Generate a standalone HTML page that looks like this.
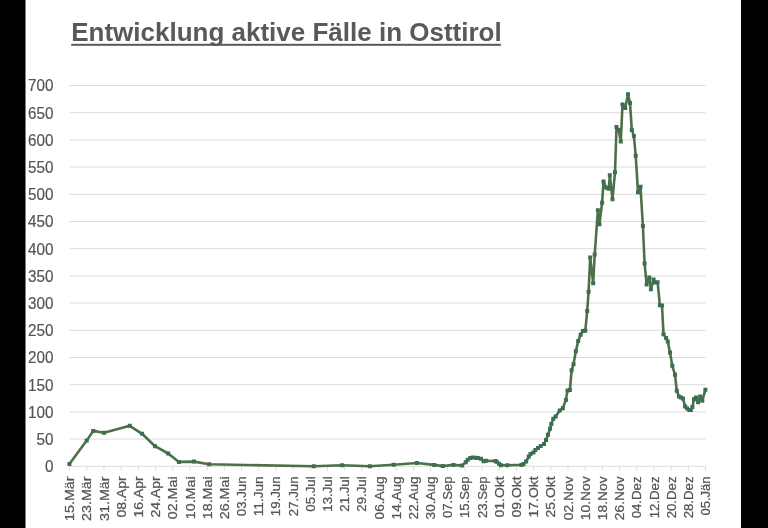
<!DOCTYPE html>
<html><head><meta charset="utf-8"><title>Entwicklung aktive Fälle in Osttirol</title>
<style>
html,body{margin:0;padding:0;background:#000;}
body{width:768px;height:528px;overflow:hidden;}
svg{display:block;filter:blur(0.35px);}
.t{font-family:"Liberation Sans",Arial,sans-serif;font-weight:bold;font-size:26px;fill:#595959;}
.y{font-family:"Liberation Sans",Arial,sans-serif;font-size:16.4px;fill:#555;stroke:#555;stroke-width:0.2px;}
.x{font-family:"Liberation Sans",Arial,sans-serif;font-size:13px;fill:#555;stroke:#555;stroke-width:0.25px;}
</style></head><body>
<svg width="768" height="528" viewBox="0 0 768 528">
<rect x="0" y="0" width="768" height="528" fill="#000"/>
<rect x="25.5" y="0" width="715.5" height="528" fill="#fff"/>
<text class="t" x="71.2" y="41">Entwicklung aktive Fälle in Osttirol</text>
<rect x="71.2" y="43.8" width="429.7" height="2" fill="#595959"/>
<path d="M69.5 466.30H705.5M69.5 439.10H705.5M69.5 411.90H705.5M69.5 384.70H705.5M69.5 357.50H705.5M69.5 330.30H705.5M69.5 303.10H705.5M69.5 275.90H705.5M69.5 248.70H705.5M69.5 221.50H705.5M69.5 194.30H705.5M69.5 167.10H705.5M69.5 139.90H705.5M69.5 112.70H705.5M69.5 85.50H705.5" stroke="#dcdcdc" stroke-width="1" fill="none"/>
<path d="M69.60 466.3V470.8M86.79 466.3V470.8M103.97 466.3V470.8M121.16 466.3V470.8M138.34 466.3V470.8M155.53 466.3V470.8M172.72 466.3V470.8M189.90 466.3V470.8M207.09 466.3V470.8M224.27 466.3V470.8M241.46 466.3V470.8M258.65 466.3V470.8M275.83 466.3V470.8M293.02 466.3V470.8M310.20 466.3V470.8M327.39 466.3V470.8M344.58 466.3V470.8M361.76 466.3V470.8M378.95 466.3V470.8M396.13 466.3V470.8M413.32 466.3V470.8M430.51 466.3V470.8M447.69 466.3V470.8M464.88 466.3V470.8M482.06 466.3V470.8M499.25 466.3V470.8M516.44 466.3V470.8M533.62 466.3V470.8M550.81 466.3V470.8M567.99 466.3V470.8M585.18 466.3V470.8M602.37 466.3V470.8M619.55 466.3V470.8M636.74 466.3V470.8M653.92 466.3V470.8M671.11 466.3V470.8M688.30 466.3V470.8M705.48 466.3V470.8" stroke="#dcdcdc" stroke-width="1" fill="none"/>
<text class="y" transform="translate(53.4,472.10) scale(0.93,1)" text-anchor="end">0</text>
<text class="y" transform="translate(53.4,444.90) scale(0.93,1)" text-anchor="end">50</text>
<text class="y" transform="translate(53.4,417.70) scale(0.93,1)" text-anchor="end">100</text>
<text class="y" transform="translate(53.4,390.50) scale(0.93,1)" text-anchor="end">150</text>
<text class="y" transform="translate(53.4,363.30) scale(0.93,1)" text-anchor="end">200</text>
<text class="y" transform="translate(53.4,336.10) scale(0.93,1)" text-anchor="end">250</text>
<text class="y" transform="translate(53.4,308.90) scale(0.93,1)" text-anchor="end">300</text>
<text class="y" transform="translate(53.4,281.70) scale(0.93,1)" text-anchor="end">350</text>
<text class="y" transform="translate(53.4,254.50) scale(0.93,1)" text-anchor="end">400</text>
<text class="y" transform="translate(53.4,227.30) scale(0.93,1)" text-anchor="end">450</text>
<text class="y" transform="translate(53.4,200.10) scale(0.93,1)" text-anchor="end">500</text>
<text class="y" transform="translate(53.4,172.90) scale(0.93,1)" text-anchor="end">550</text>
<text class="y" transform="translate(53.4,145.70) scale(0.93,1)" text-anchor="end">600</text>
<text class="y" transform="translate(53.4,118.50) scale(0.93,1)" text-anchor="end">650</text>
<text class="y" transform="translate(53.4,91.30) scale(0.93,1)" text-anchor="end">700</text>
<text class="x" transform="translate(74.20,476.4) rotate(-90)" text-anchor="end" textLength="44.67" lengthAdjust="spacingAndGlyphs">15.Mär</text>
<text class="x" transform="translate(91.39,476.4) rotate(-90)" text-anchor="end" textLength="44.67" lengthAdjust="spacingAndGlyphs">23.Mär</text>
<text class="x" transform="translate(108.57,476.4) rotate(-90)" text-anchor="end" textLength="44.67" lengthAdjust="spacingAndGlyphs">31.Mär</text>
<text class="x" transform="translate(125.76,476.4) rotate(-90)" text-anchor="end" textLength="41.14" lengthAdjust="spacingAndGlyphs">08.Apr</text>
<text class="x" transform="translate(142.94,476.4) rotate(-90)" text-anchor="end" textLength="41.14" lengthAdjust="spacingAndGlyphs">16.Apr</text>
<text class="x" transform="translate(160.13,476.4) rotate(-90)" text-anchor="end" textLength="41.14" lengthAdjust="spacingAndGlyphs">24.Apr</text>
<text class="x" transform="translate(177.32,476.4) rotate(-90)" text-anchor="end" textLength="42.83" lengthAdjust="spacingAndGlyphs">02.Mai</text>
<text class="x" transform="translate(194.50,476.4) rotate(-90)" text-anchor="end" textLength="42.83" lengthAdjust="spacingAndGlyphs">10.Mai</text>
<text class="x" transform="translate(211.69,476.4) rotate(-90)" text-anchor="end" textLength="42.83" lengthAdjust="spacingAndGlyphs">18.Mai</text>
<text class="x" transform="translate(228.87,476.4) rotate(-90)" text-anchor="end" textLength="42.83" lengthAdjust="spacingAndGlyphs">26.Mai</text>
<text class="x" transform="translate(246.06,476.4) rotate(-90)" text-anchor="end" textLength="39.85" lengthAdjust="spacingAndGlyphs">03.Jun</text>
<text class="x" transform="translate(263.25,476.4) rotate(-90)" text-anchor="end" textLength="39.85" lengthAdjust="spacingAndGlyphs">11.Jun</text>
<text class="x" transform="translate(280.43,476.4) rotate(-90)" text-anchor="end" textLength="39.85" lengthAdjust="spacingAndGlyphs">19.Jun</text>
<text class="x" transform="translate(297.62,476.4) rotate(-90)" text-anchor="end" textLength="39.85" lengthAdjust="spacingAndGlyphs">27.Jun</text>
<text class="x" transform="translate(314.80,476.4) rotate(-90)" text-anchor="end" textLength="35.30" lengthAdjust="spacingAndGlyphs">05.Jul</text>
<text class="x" transform="translate(331.99,476.4) rotate(-90)" text-anchor="end" textLength="35.30" lengthAdjust="spacingAndGlyphs">13.Jul</text>
<text class="x" transform="translate(349.18,476.4) rotate(-90)" text-anchor="end" textLength="35.30" lengthAdjust="spacingAndGlyphs">21.Jul</text>
<text class="x" transform="translate(366.36,476.4) rotate(-90)" text-anchor="end" textLength="35.30" lengthAdjust="spacingAndGlyphs">29.Jul</text>
<text class="x" transform="translate(383.55,476.4) rotate(-90)" text-anchor="end" textLength="43.01" lengthAdjust="spacingAndGlyphs">06.Aug</text>
<text class="x" transform="translate(400.73,476.4) rotate(-90)" text-anchor="end" textLength="43.01" lengthAdjust="spacingAndGlyphs">14.Aug</text>
<text class="x" transform="translate(417.92,476.4) rotate(-90)" text-anchor="end" textLength="43.01" lengthAdjust="spacingAndGlyphs">22.Aug</text>
<text class="x" transform="translate(435.11,476.4) rotate(-90)" text-anchor="end" textLength="43.01" lengthAdjust="spacingAndGlyphs">30.Aug</text>
<text class="x" transform="translate(452.29,476.4) rotate(-90)" text-anchor="end" textLength="41.58" lengthAdjust="spacingAndGlyphs">07.Sep</text>
<text class="x" transform="translate(469.48,476.4) rotate(-90)" text-anchor="end" textLength="41.58" lengthAdjust="spacingAndGlyphs">15.Sep</text>
<text class="x" transform="translate(486.66,476.4) rotate(-90)" text-anchor="end" textLength="41.58" lengthAdjust="spacingAndGlyphs">23.Sep</text>
<text class="x" transform="translate(503.85,476.4) rotate(-90)" text-anchor="end" textLength="41.12" lengthAdjust="spacingAndGlyphs">01.Okt</text>
<text class="x" transform="translate(521.04,476.4) rotate(-90)" text-anchor="end" textLength="41.12" lengthAdjust="spacingAndGlyphs">09.Okt</text>
<text class="x" transform="translate(538.22,476.4) rotate(-90)" text-anchor="end" textLength="41.12" lengthAdjust="spacingAndGlyphs">17.Okt</text>
<text class="x" transform="translate(555.41,476.4) rotate(-90)" text-anchor="end" textLength="41.12" lengthAdjust="spacingAndGlyphs">25.Okt</text>
<text class="x" transform="translate(572.59,476.4) rotate(-90)" text-anchor="end" textLength="43.78" lengthAdjust="spacingAndGlyphs">02.Nov</text>
<text class="x" transform="translate(589.78,476.4) rotate(-90)" text-anchor="end" textLength="43.78" lengthAdjust="spacingAndGlyphs">10.Nov</text>
<text class="x" transform="translate(606.97,476.4) rotate(-90)" text-anchor="end" textLength="43.78" lengthAdjust="spacingAndGlyphs">18.Nov</text>
<text class="x" transform="translate(624.15,476.4) rotate(-90)" text-anchor="end" textLength="43.78" lengthAdjust="spacingAndGlyphs">26.Nov</text>
<text class="x" transform="translate(641.34,476.4) rotate(-90)" text-anchor="end" textLength="41.98" lengthAdjust="spacingAndGlyphs">04.Dez</text>
<text class="x" transform="translate(658.52,476.4) rotate(-90)" text-anchor="end" textLength="41.98" lengthAdjust="spacingAndGlyphs">12.Dez</text>
<text class="x" transform="translate(675.71,476.4) rotate(-90)" text-anchor="end" textLength="41.98" lengthAdjust="spacingAndGlyphs">20.Dez</text>
<text class="x" transform="translate(692.90,476.4) rotate(-90)" text-anchor="end" textLength="41.98" lengthAdjust="spacingAndGlyphs">28.Dez</text>
<text class="x" transform="translate(710.08,476.4) rotate(-90)" text-anchor="end" textLength="39.14" lengthAdjust="spacingAndGlyphs">05.Jän</text>
<path d="M69.4 464.1 L86.7 440.6 L93.2 430.9 L104.0 432.7 L129.8 425.8 L142.1 433.8 L155.0 446.2 L168.2 453.5 L178.9 461.9 L194.0 461.6 L209.2 464.3 L313.8 466.2 L342.0 465.2 L369.9 466.2 L393.6 464.7 L416.9 463.0 L434.2 464.9 L442.8 466.1 L453.5 464.9 L462.0 465.6 L465.7 462.3 L467.7 459.7 L470.3 458.1 L472.9 457.4 L475.5 457.7 L477.8 458.1 L481.0 458.7 L483.6 461.3 L485.9 460.7 L495.4 461.0 L496.6 461.7 L499.0 463.8 L501.0 465.2 L507.2 465.2 L521.5 464.9 L523.5 463.9 L526.1 461.5 L528.8 456.6 L530.5 453.9 L533.4 452.6 L535.4 450.0 L538.0 448.0 L540.7 446.0 L544.0 444.0 L546.0 440.0 L548.0 434.7 L550.0 428.8 L551.3 424.1 L553.3 418.8 L555.7 416.5 L559.7 410.6 L562.8 408.2 L565.9 399.9 L567.5 390.4 L569.9 389.9 L571.6 370.3 L573.5 364.3 L575.8 351.3 L578.2 341.1 L580.6 334.7 L582.9 331.1 L585.3 330.7 L587.2 311.0 L588.6 291.7 L590.2 257.6 L593.2 283.3 L594.7 254.5 L597.9 210.3 L599.4 224.3 L602.1 202.8 L603.5 181.6 L606.3 187.8 L608.8 188.8 L609.8 175.3 L612.5 199.3 L615.0 172.2 L616.5 127.0 L618.6 129.9 L620.8 141.5 L622.5 104.4 L625.2 107.9 L628.0 94.3 L630.0 103.1 L631.8 129.9 L633.9 136.0 L635.7 155.7 L638.0 192.2 L640.5 186.8 L642.9 226.0 L644.6 263.5 L646.6 284.5 L649.3 277.6 L650.9 289.2 L653.6 279.6 L655.0 282.5 L657.6 282.2 L659.9 305.3 L662.0 305.5 L663.5 334.3 L666.1 338.0 L667.8 341.4 L670.0 352.5 L672.3 365.8 L675.0 374.7 L676.8 390.8 L678.9 396.6 L680.9 397.6 L683.0 398.6 L685.1 406.4 L687.2 408.5 L689.3 410.1 L690.8 410.1 L692.4 407.0 L694.0 399.2 L696.0 397.6 L698.1 402.3 L700.2 396.6 L702.3 400.7 L705.4 389.8" stroke="#4f7045" stroke-width="2.6" fill="none" stroke-linejoin="round"/>
<path d="M67.4 462.1h4v4h-4zM84.7 438.6h4v4h-4zM91.2 428.9h4v4h-4zM102.0 430.7h4v4h-4zM127.8 423.8h4v4h-4zM140.1 431.8h4v4h-4zM153.0 444.2h4v4h-4zM166.2 451.5h4v4h-4zM176.9 459.9h4v4h-4zM192.0 459.6h4v4h-4zM207.2 462.3h4v4h-4zM311.8 464.2h4v4h-4zM340.0 463.2h4v4h-4zM367.9 464.2h4v4h-4zM391.6 462.7h4v4h-4zM414.9 461.0h4v4h-4zM432.2 462.9h4v4h-4zM440.8 464.1h4v4h-4zM451.5 462.9h4v4h-4zM460.0 463.6h4v4h-4zM463.7 460.3h4v4h-4zM465.7 457.7h4v4h-4zM468.3 456.1h4v4h-4zM470.9 455.4h4v4h-4zM473.5 455.7h4v4h-4zM475.8 456.1h4v4h-4zM479.0 456.7h4v4h-4zM481.6 459.3h4v4h-4zM483.9 458.7h4v4h-4zM493.4 459.0h4v4h-4zM494.6 459.7h4v4h-4zM497.0 461.8h4v4h-4zM499.0 463.2h4v4h-4zM505.2 463.2h4v4h-4zM519.5 462.9h4v4h-4zM521.5 461.9h4v4h-4zM524.1 459.5h4v4h-4zM526.8 454.6h4v4h-4zM528.5 451.9h4v4h-4zM531.4 450.6h4v4h-4zM533.4 448.0h4v4h-4zM536.0 446.0h4v4h-4zM538.7 444.0h4v4h-4zM542.0 442.0h4v4h-4zM544.0 438.0h4v4h-4zM546.0 432.7h4v4h-4zM548.0 426.8h4v4h-4zM549.3 422.1h4v4h-4zM551.3 416.8h4v4h-4zM553.7 414.5h4v4h-4zM557.7 408.6h4v4h-4zM560.8 406.2h4v4h-4zM563.9 397.9h4v4h-4zM565.5 388.4h4v4h-4zM567.9 387.9h4v4h-4zM569.6 368.3h4v4h-4zM571.5 362.3h4v4h-4zM573.8 349.3h4v4h-4zM576.2 339.1h4v4h-4zM578.6 332.7h4v4h-4zM580.9 329.1h4v4h-4zM583.3 328.7h4v4h-4zM585.2 309.0h4v4h-4zM586.6 289.7h4v4h-4zM588.2 255.6h4v4h-4zM591.2 281.3h4v4h-4zM592.7 252.5h4v4h-4zM595.9 208.3h4v4h-4zM597.4 222.3h4v4h-4zM600.1 200.8h4v4h-4zM601.5 179.6h4v4h-4zM604.3 185.8h4v4h-4zM606.8 186.8h4v4h-4zM607.8 173.3h4v4h-4zM610.5 197.3h4v4h-4zM613.0 170.2h4v4h-4zM614.5 125.0h4v4h-4zM616.6 127.9h4v4h-4zM618.8 139.5h4v4h-4zM620.5 102.4h4v4h-4zM623.2 105.9h4v4h-4zM626.0 92.3h4v4h-4zM628.0 101.1h4v4h-4zM629.8 127.9h4v4h-4zM631.9 134.0h4v4h-4zM633.7 153.7h4v4h-4zM636.0 190.2h4v4h-4zM638.5 184.8h4v4h-4zM640.9 224.0h4v4h-4zM642.6 261.5h4v4h-4zM644.6 282.5h4v4h-4zM647.3 275.6h4v4h-4zM648.9 287.2h4v4h-4zM651.6 277.6h4v4h-4zM653.0 280.5h4v4h-4zM655.6 280.2h4v4h-4zM657.9 303.3h4v4h-4zM660.0 303.5h4v4h-4zM661.5 332.3h4v4h-4zM664.1 336.0h4v4h-4zM665.8 339.4h4v4h-4zM668.0 350.5h4v4h-4zM670.3 363.8h4v4h-4zM673.0 372.7h4v4h-4zM674.8 388.8h4v4h-4zM676.9 394.6h4v4h-4zM678.9 395.6h4v4h-4zM681.0 396.6h4v4h-4zM683.1 404.4h4v4h-4zM685.2 406.5h4v4h-4zM687.3 408.1h4v4h-4zM688.8 408.1h4v4h-4zM690.4 405.0h4v4h-4zM692.0 397.2h4v4h-4zM694.0 395.6h4v4h-4zM696.1 400.3h4v4h-4zM698.2 394.6h4v4h-4zM700.3 398.7h4v4h-4zM703.4 387.8h4v4h-4z" fill="#3b6f54" stroke="none"/>
</svg>
</body></html>
